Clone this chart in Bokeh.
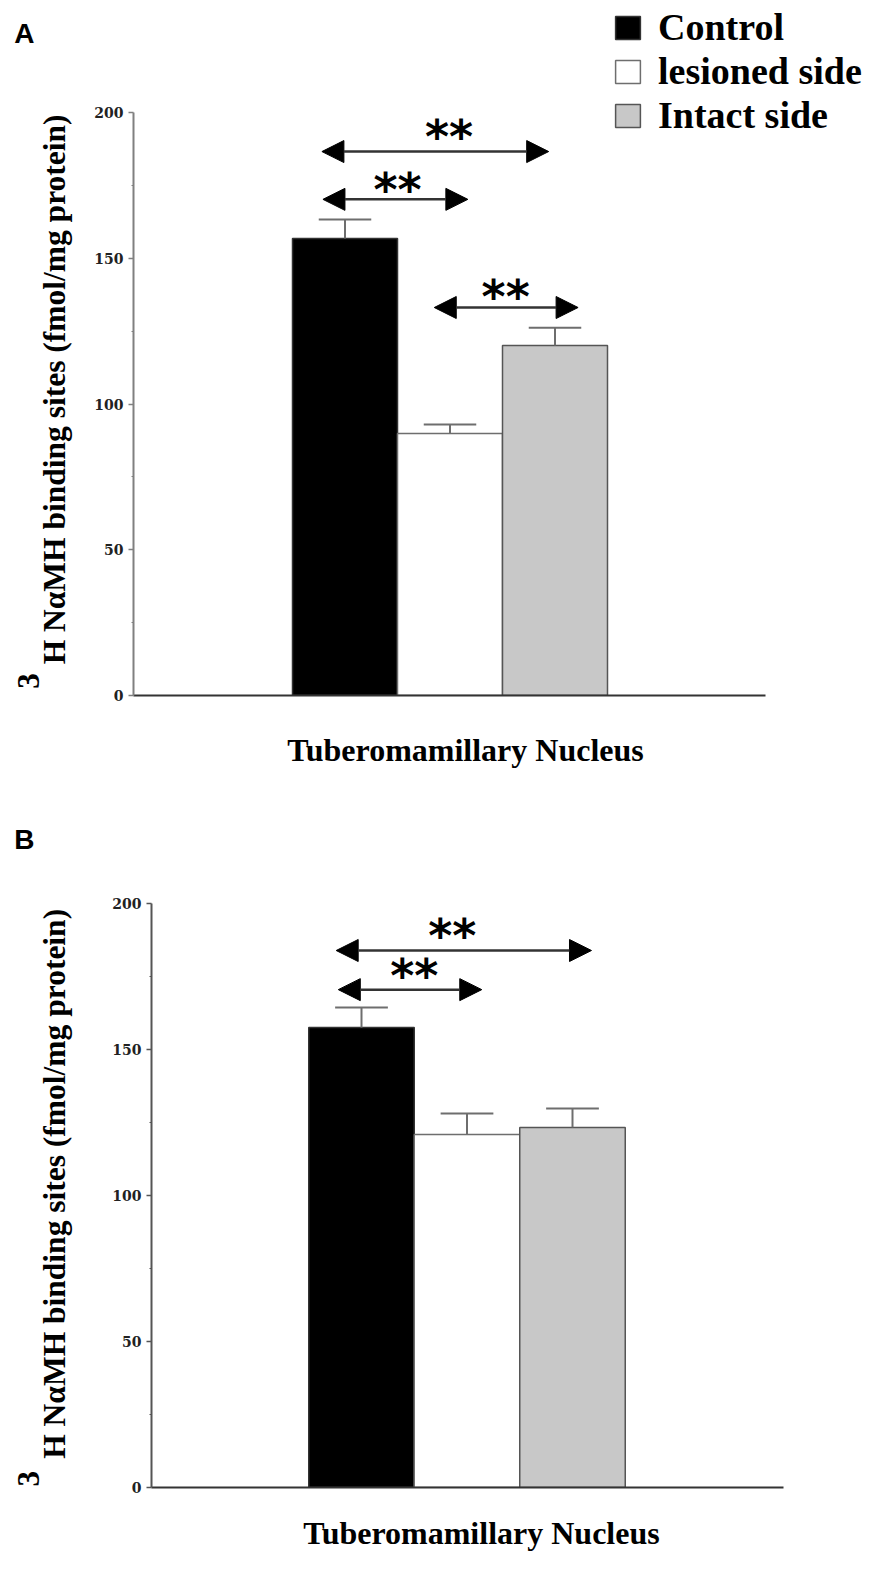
from bokeh.plotting import figure
from bokeh.models import (Range1d, FixedTicker, Label, Arrow, NormalHead,
                          Legend, LegendItem, LinearAxis)
from bokeh.embed import file_html
from bokeh.resources import INLINE

# ---------------- data ----------------
groups = ["Control", "lesioned side", "Intact side"]
bar_colors = ["black", "white", "#c8c8c8"]
bar_lines = ["#333333", "#6e6e6e", "#555555"]

a_means = [156.8, 89.9, 120.1]
a_sem = [6.5, 3.1, 6.1]
b_means = [157.5, 120.9, 123.3]
b_sem = [6.9, 7.2, 6.5]

y_ticks = [0, 50, 100, 150, 200]
y_minor = [25, 75, 125, 175]
y_tick_labels = ["0", "50", "100", "150", "200"]

# significance arrows (x in bar-index units, y in fmol/mg protein)
a_arrow_x0 = [-0.22, -0.21, 0.85]
a_arrow_x1 = [1.94, 1.17, 2.22]
a_arrow_y = [186.6, 170.2, 133.1]
a_star_x = [0.99, 0.50, 1.53]
a_star_y = [193.8, 175.6, 138.9]

b_arrow_x0 = [-0.24, -0.22]
b_arrow_x1 = [2.18, 1.14]
b_arrow_y = [183.9, 170.5]
b_star_x = [0.86, 0.50]
b_star_y = [190.8, 177.1]

x_title = "Tuberomamillary Nucleus"
y_title = "H N\u03b1MH binding sites (fmol/mg protein)"
y_sup = "3"
star_text = "**"

SERIF = "Liberation Serif"
SANS = "Liberation Sans"
W = 892


def bare_axis(ax):
    ax.axis_line_color = None
    ax.major_tick_line_color = None
    ax.minor_tick_line_color = None
    ax.major_tick_out = 0
    ax.major_tick_in = 0
    ax.minor_tick_out = 0
    ax.minor_tick_in = 0
    ax.major_label_standoff = 0


def text_axis(p, side, tick, label, standoff, font, size, style="bold",
              orientation=None):
    ax = LinearAxis()
    bare_axis(ax)
    ax.ticker = FixedTicker(ticks=[tick], minor_ticks=[])
    ax.major_label_overrides = {tick: label}
    ax.major_label_standoff = standoff
    ax.major_label_text_font = font
    ax.major_label_text_font_style = style
    ax.major_label_text_font_size = size
    ax.major_label_text_color = "black"
    if orientation is not None:
        ax.major_label_orientation = orientation
    p.add_layout(ax, side)
    return ax


def make_panel(letter, letter_val, means, sems, ax0, ax1, ay, sx, sy, legend,
               H, axis_px, bb, frame_h, px_unit, bar0_px, xaxis_end_px,
               xlab_px, xlab_standoff, ylab_val, ylab_standoff,
               sup_val, sup_standoff, yaxis_color, ypx_unit):
    x_start = (axis_px - bar0_px) / px_unit
    x_end = x_start + (W - axis_px) / px_unit
    y_end = frame_h / ypx_unit

    p = figure(width=W, height=H, title=None,
               x_range=Range1d(x_start, x_end), y_range=Range1d(0, y_end),
               output_backend="svg", toolbar_location=None,
               min_border_left=axis_px, min_border_right=0, min_border_top=0,
               min_border_bottom=bb)
    p.outline_line_color = None
    p.xgrid.visible = False
    p.ygrid.visible = False

    # x axis: baseline only
    xa = p.xaxis[0]
    bare_axis(xa)
    xa.ticker = FixedTicker(ticks=[], minor_ticks=[])
    xa.axis_line_color = "#333333"
    xa.axis_line_width = 2
    xa.bounds = (x_start, (xaxis_end_px - bar0_px) / px_unit)
    # x title as a centred label of its own axis
    xc = round((xlab_px - bar0_px) / px_unit, 3)
    text_axis(p, "below", xc, x_title, xlab_standoff, SERIF, "32px")

    # y axis with ticks
    ya = p.yaxis[0]
    ya.bounds = (0, 200)
    ya.ticker = FixedTicker(ticks=y_ticks, minor_ticks=y_minor)
    ya.major_label_overrides = {t: l for t, l in zip(y_ticks, y_tick_labels)}
    ya.axis_line_color = yaxis_color
    ya.axis_line_width = 2
    ya.major_tick_line_color = yaxis_color
    ya.major_tick_line_width = 1.5
    ya.major_tick_out = 5
    ya.major_tick_in = 0
    ya.minor_tick_line_color = yaxis_color
    ya.minor_tick_out = 2
    ya.minor_tick_in = 0
    ya.major_label_standoff = 5
    ya.major_label_text_font = "DejaVu Serif"
    ya.major_label_text_font_style = "bold"
    ya.major_label_text_font_size = "14px"
    ya.major_label_text_color = "#222222"

    # y title (rotated), panel letter, superscript 3
    text_axis(p, "left", ylab_val, y_title, ylab_standoff, SERIF, "31.5px",
              orientation="vertical")
    text_axis(p, "left", letter_val, letter, 0, SANS, "28px")
    text_axis(p, "left", sup_val, y_sup, sup_standoff, SERIF, "31px",
              orientation="vertical")

    # bars
    renderers = []
    for i in range(len(groups)):
        r = p.vbar(x=[i], top=[means[i]], bottom=0, width=1.0,
                   fill_color=bar_colors[i], line_color=bar_lines[i],
                   line_width=1.5)
        renderers.append(r)

    # error bars (upper only)
    xs = list(range(len(groups)))
    tops = [m + s for m, s in zip(means, sems)]
    p.segment(x0=xs, y0=means, x1=xs, y1=tops, line_color="#6e6e6e",
              line_width=2)
    cap = 0.25
    p.segment(x0=[x - cap for x in xs], y0=tops, x1=[x + cap for x in xs],
              y1=tops, line_color="#6e6e6e", line_width=2)

    # significance arrows
    for x0, x1, y in zip(ax0, ax1, ay):
        p.add_layout(Arrow(
            start=NormalHead(size=22, fill_color="black", line_color="black"),
            end=NormalHead(size=22, fill_color="black", line_color="black"),
            x_start=x0, y_start=y, x_end=x1, y_end=y,
            line_color="#333333", line_width=2.5))
    star_shift = 6.0 / ypx_unit
    for x, y in zip(sx, sy):
        p.add_layout(Label(x=x, y=y - star_shift, text=star_text,
                           text_align="center", text_baseline="middle",
                           text_font="DejaVu Sans", text_font_style="bold",
                           text_font_size="46px", text_color="black"))

    if legend:
        items = [LegendItem(label=g, renderers=[r])
                 for g, r in zip(groups, renderers)]
        leg = Legend(items=items, location=(479, 558), margin=0, padding=0,
                     spacing=-2, glyph_width=31, glyph_height=29,
                     label_standoff=15, label_text_font=SERIF,
                     label_text_font_style="bold",
                     label_text_font_size="38px", label_text_color="black",
                     border_line_color=None, background_fill_alpha=0)
        p.add_layout(leg)
    return p


# Panel A: canvas 0..772, value 0 at y=695, y axis at x=133
pA = make_panel("A", 227, a_means, a_sem, a_arrow_x0, a_arrow_x1, a_arrow_y,
                a_star_x, a_star_y, True,
                H=772, axis_px=133, bb=77, frame_h=695, px_unit=105.0,
                bar0_px=344.5, xaxis_end_px=765, xlab_px=465,
                xlab_standoff=36, ylab_val=105, ylab_standoff=19,
                sup_val=5, sup_standoff=-28, yaxis_color="#808080",
                ypx_unit=2.915)
# Panel B: canvas starts at page y=772; value 0 at y=1487 (canvas 715)
pB = make_panel("B", 222, b_means, b_sem, b_arrow_x0, b_arrow_x1, b_arrow_y,
                b_star_x, b_star_y, False,
                H=793, axis_px=151, bb=78, frame_h=715, px_unit=105.5,
                bar0_px=361, xaxis_end_px=783, xlab_px=481,
                xlab_standoff=27, ylab_val=104, ylab_standoff=37,
                sup_val=3, sup_standoff=-28, yaxis_color="#555555",
                ypx_unit=2.92)

open("out.html", "w").write(file_html([pA, pB], INLINE))
